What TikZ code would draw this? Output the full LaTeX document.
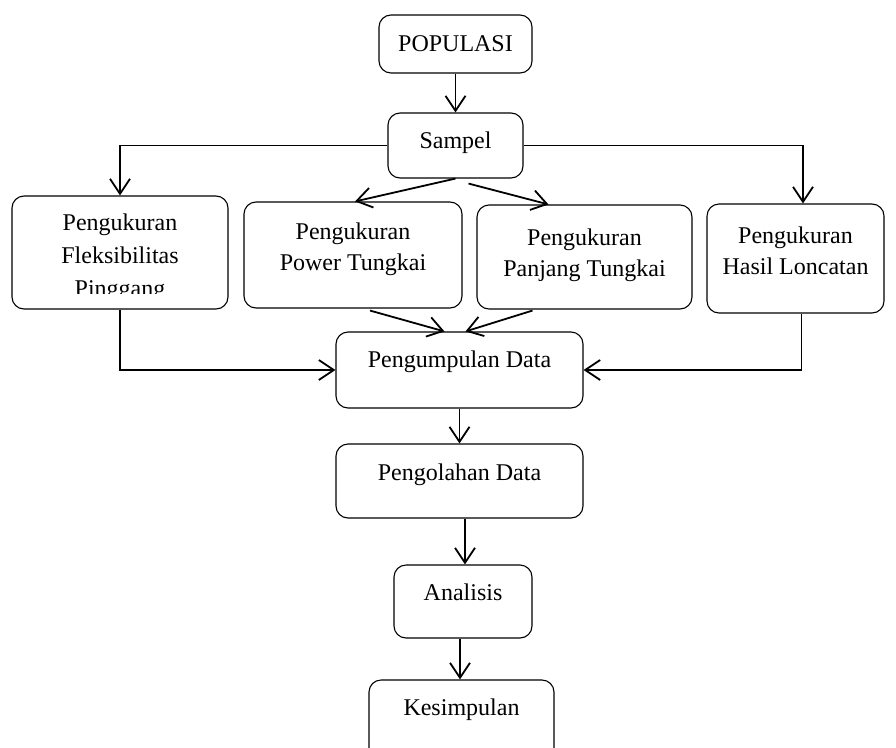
\documentclass[tikz,border=0pt]{standalone}
\usepackage{fontspec}
\setmainfont{Liberation Serif}
\usetikzlibrary{arrows.meta}
\begin{document}
\begin{tikzpicture}[x=1pt,y=-1pt,
  box/.style={draw, rounded corners=12pt, line width=1.1pt, inner sep=0pt},
  lbl/.style={anchor=base, inner sep=0pt, font=\fontsize{24}{28}\selectfont},
  arr/.style={-{Straight Barb[length=15pt,width=20pt]}, line width=1.8pt}]
\useasboundingbox (0,0) rectangle (896,747);
\clip (0,0) rectangle (896,747);
% kotak
\node[box, minimum width=153pt, minimum height=58pt] (pop) at (455.5,44) {};
\node[box, minimum width=135pt, minimum height=65pt] (sampel) at (455.5,145.5) {};
\node[box, minimum width=216pt, minimum height=113pt] (fleks) at (120,252.5) {};
\node[box, minimum width=218pt, minimum height=106pt] (power) at (353,255) {};
\node[box, minimum width=215pt, minimum height=104pt] (panjang) at (584.5,257) {};
\node[box, minimum width=177pt, minimum height=109pt] (hasil) at (795.5,258.5) {};
\node[box, minimum width=247pt, minimum height=76pt] (kumpul) at (459.5,370) {};
\node[box, minimum width=247pt, minimum height=74pt] (olah) at (459.5,481) {};
\node[box, minimum width=138pt, minimum height=73pt] (analisis) at (463,601.5) {};
\node[box, minimum width=185pt, minimum height=80pt] (simpul) at (461.5,720) {};
% teks
\node[lbl] (popT) at (455.5,51) {POPULASI};
\node[lbl] (sampelT) at (455.5,148) {Sampel};
\begin{scope}
\clip (12,196) rectangle (228,293);
\node[lbl] (fleksT1) at (120,230) {Pengukuran};
\node[lbl] (fleksT2) at (120,263) {Fleksibilitas};
\node[lbl] (fleksT3) at (120,296) {Pinggang};
\end{scope}
\node[lbl] (powerT1) at (353,239) {Pengukuran};
\node[lbl] (powerT2) at (353,270) {Power Tungkai};
\node[lbl] (panjangT1) at (584.5,245) {Pengukuran};
\node[lbl] (panjangT2) at (584.5,276) {Panjang Tungkai};
\node[lbl] (hasilT1) at (795.5,243) {Pengukuran};
\node[lbl] (hasilT2) at (795.5,274) {Hasil Loncatan};
\node[lbl] (kumpulT) at (459.5,367) {Pengumpulan Data};
\node[lbl] (olahT) at (459.5,480) {Pengolahan Data};
\node[lbl] (analisisT) at (463,600) {Analisis};
\node[lbl] (simpulT) at (461.5,715) {Kesimpulan};
% panah
\draw[arr] (pop.south) -- (sampel.north);
\draw[arr] (sampel.west) -| (fleks.north);
\draw[arr] (sampel.east) -| ([xshift=7.5pt]hasil.north);
\draw[arr] (sampel.south) -- ([xshift=2pt]power.north);
\draw[arr] ([shift={(13,5)}]sampel.south) -- ([xshift=-36pt]panjang.north);
\draw[arr] ([shift={(17,2)}]power.south) -- ([xshift=-15pt]kumpul.north);
\draw[arr] ([shift={(-52,1)}]panjang.south) -- ([xshift=6pt]kumpul.north);
\draw[arr] (fleks.south) |- (kumpul.west);
\draw[arr] ([xshift=6pt]hasil.south) |- (kumpul.east);
\draw[arr] (kumpul.south) -- (olah.north);
\draw[arr] ([xshift=5.5pt]olah.south) -- ([xshift=2pt]analisis.north);
\draw[arr] ([xshift=-3pt]analisis.south) -- ([xshift=-3pt]analisis.south |- simpul.north);
\end{tikzpicture}
\end{document}
